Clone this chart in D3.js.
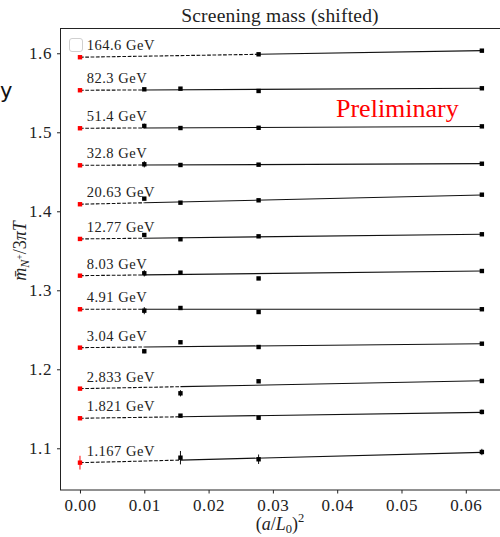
<!DOCTYPE html>
<html>
<head>
<meta charset="utf-8">
<script src="https://cdn.jsdelivr.net/npm/d3@7"></script>
<style>
  body { margin: 0; background: #fff; }
  svg { display: block; }
  text { font-family: "Liberation Serif", "DejaVu Serif", serif; fill: #222; }
</style>
</head>
<body>
<svg width="500" height="537"></svg>
<script>
var width = 500;
var height = 537;

// temperatures, one row per curve
var labels = ["164.6 GeV", "82.3 GeV", "51.4 GeV", "32.8 GeV", "20.63 GeV", "12.77 GeV",
              "8.03 GeV", "4.91 GeV", "3.04 GeV", "2.833 GeV", "1.821 GeV", "1.167 GeV"];

// lattice spacings (a/L0)^2
var xLattice = [0.01, 0.015625, 0.027778, 0.0625];

// lattice points per curve (null = not simulated)
var latticeValues = [
    [null,   null,   1.5987, 1.6033],
    [1.5544, 1.5552, 1.5523, 1.5557],
    [1.5080, 1.5054, 1.5057, 1.5075],
    [1.4595, 1.4586, 1.4590, 1.4602],
    [1.4160, 1.4109, 1.4139, 1.4210],
    [1.3700, 1.3646, 1.3683, 1.3709],
    [1.3215, 1.3223, 1.3150, 1.3244],
    [1.2742, 1.2776, 1.2725, 1.2760],
    [1.2228, 1.2342, 1.2282, 1.2324],
    [null,   1.1696, 1.1848, 1.1852],
    [null,   1.1413, 1.1387, 1.1460],
    [null,   1.0881, 1.0861, 1.0953]
];
var latticeErrors = [
    [0,      0,      0.0008, 0.0008],
    [0.0008, 0.0008, 0.0008, 0.0008],
    [0.0030, 0.0008, 0.0008, 0.0008],
    [0.0040, 0.0010, 0.0008, 0.0008],
    [0.0020, 0.0010, 0.0010, 0.0008],
    [0.0020, 0.0010, 0.0010, 0.0008],
    [0.0040, 0.0015, 0.0015, 0.0010],
    [0.0045, 0.0015, 0.0020, 0.0020],
    [0.0025, 0.0015, 0.0010, 0.0020],
    [0,      0.0040, 0.0020, 0.0010],
    [0,      0.0020, 0.0015, 0.0030],
    [0,      0.0085, 0.0060, 0.0040]
];

// continuum extrapolation (red) and fit value at the coarsest lattice
var continuumValues = [1.5950, 1.5532, 1.5051, 1.4582, 1.4089, 1.3650,
                       1.3185, 1.2760, 1.2274, 1.1755, 1.1380, 1.0818];
var continuumErrors = [0.0020, 0.0010, 0.0010, 0.0010, 0.0010, 0.0010,
                       0.0010, 0.0010, 0.0010, 0.0015, 0.0020, 0.0087];
var fitEndValues = [1.6033, 1.5557, 1.5073, 1.4603, 1.4206, 1.3709,
                    1.3244, 1.2760, 1.2324, 1.1855, 1.1455, 1.0948];

var xTicks = [0.00, 0.01, 0.02, 0.03, 0.04, 0.05, 0.06];
var yTicks = [1.1, 1.2, 1.3, 1.4, 1.5, 1.6];

var svg = d3.select('svg');

var xScale = d3.scaleLinear().domain([-0.00303, 0.06532]).range([60.5, 500]);
var yScale = d3.scaleLinear().domain([1.0472, 1.632]).range([490, 28]);

// stray text on the left edge
svg.append("text")
    .attr("x", 0)
    .attr("y", 98)
    .style("font-family", "DejaVu Sans, sans-serif")
    .style("fill", "#111")
    .attr("font-size", "21px")
    .text("y");

// title
svg.append("text")
    .attr("x", 280)
    .attr("y", 22)
    .attr("text-anchor", "middle")
    .attr("font-size", "19.5px")
    .attr("letter-spacing", "0.2px")
    .text("Screening mass (shifted)");

// axes
var xAxis = d3.axisBottom(xScale).tickValues(xTicks).tickFormat(d3.format(".2f")).tickSize(3.5).tickPadding(5);
var yAxis = d3.axisLeft(yScale).tickValues(yTicks).tickFormat(d3.format(".1f")).tickSize(3.5).tickPadding(5);

var gx = svg.append("g").attr("transform", "translate(0,490)").call(xAxis);
var gy = svg.append("g").attr("transform", "translate(60.5,0)").call(yAxis);
[gx, gy].forEach(function (g) {
    g.select(".domain").remove();
    g.selectAll(".tick line").attr("stroke", "#222");
    g.selectAll(".tick text")
        .style("font-family", "Liberation Serif, serif")
        .style("fill", "#222")
        .attr("letter-spacing", "0.6px")
        .attr("font-size", "17px");
});

// frame (right spine falls outside the picture)
svg.append("rect")
    .attr("x", 60.5)
    .attr("y", 28.5)
    .attr("width", 441)
    .attr("height", 461.5)
    .attr("fill", "none")
    .attr("stroke", "#222")
    .attr("stroke-width", 1);

// empty legend handle
svg.append("rect")
    .attr("x", 69.5)
    .attr("y", 38.5)
    .attr("width", 13)
    .attr("height", 13)
    .attr("rx", 2.5)
    .attr("fill", "none")
    .attr("stroke", "#d0d0d0")
    .attr("stroke-width", 1);

// axis labels
var xl = svg.append("text")
    .attr("x", 280)
    .attr("y", 530)
    .attr("text-anchor", "middle")
    .attr("font-size", "18px");
xl.append("tspan").text("(");
xl.append("tspan").attr("font-style", "italic").text("a");
xl.append("tspan").text("/");
xl.append("tspan").attr("font-style", "italic").text("L");
xl.append("tspan").attr("font-size", "12.5px").attr("dy", 3).text("0");
xl.append("tspan").attr("dy", -3).text(")");
xl.append("tspan").attr("font-size", "12.5px").attr("dy", -8).text("2");

var yl = svg.append("text")
    .attr("transform", "translate(26,251) rotate(-90)")
    .attr("text-anchor", "middle")
    .attr("font-size", "18px");
yl.append("tspan").attr("font-style", "italic").text("m\u0304");
yl.append("tspan").attr("font-size", "12px").attr("font-style", "italic").attr("dy", 3).text("N");
yl.append("tspan").attr("font-size", "9.5px").attr("dy", -6).text("+");
yl.append("tspan").attr("dy", 3).text("/3");
yl.append("tspan").attr("font-style", "italic").text("\u03C0T");

// preliminary stamp
svg.append("text")
    .attr("x", 336)
    .attr("y", 117)
    .attr("font-size", "26px")
    .style("fill", "red")
    .text("Preliminary");

// curves
var series = labels.map(function (lab, i) {
    var pts = [];
    xLattice.forEach(function (x, j) {
        if (latticeValues[i][j] !== null) {
            pts.push({ x: x, y: latticeValues[i][j], e: latticeErrors[i][j] });
        }
    });
    return { label: lab, pts: pts, c0: continuumValues[i], ce: continuumErrors[i], cEnd: fitEndValues[i] };
});

var groups = svg.selectAll(".curve")
    .data(series)
    .enter()
    .append("g")
    .classed("curve", true);

groups.each(function (d) {
    var g = d3.select(this);
    var xmin = d.pts[0].x;
    var xmax = xLattice[xLattice.length - 1];
    var fit = d3.scaleLinear().domain([0, xmax]).range([d.c0, d.cEnd]);

    // dashed extrapolation to the continuum
    g.append("line")
        .attr("x1", xScale(0)).attr("y1", yScale(fit(0)))
        .attr("x2", xScale(xmin)).attr("y2", yScale(fit(xmin)))
        .attr("stroke", "#111")
        .attr("stroke-width", 1.1)
        .attr("stroke-dasharray", "3.7,1.6");

    // solid fit over the data range
    g.append("line")
        .attr("x1", xScale(xmin)).attr("y1", yScale(fit(xmin)))
        .attr("x2", xScale(xmax)).attr("y2", yScale(fit(xmax)))
        .attr("stroke", "#111")
        .attr("stroke-width", 1.1);

    // lattice points
    g.selectAll(".err")
        .data(d.pts)
        .enter()
        .append("line")
        .attr("x1", function (p) { return xScale(p.x); })
        .attr("x2", function (p) { return xScale(p.x); })
        .attr("y1", function (p) { return yScale(p.y - p.e); })
        .attr("y2", function (p) { return yScale(p.y + p.e); })
        .attr("stroke", "#111")
        .attr("stroke-width", 1);
    g.selectAll(".pt")
        .data(d.pts)
        .enter()
        .append("rect")
        .attr("x", function (p) { return xScale(p.x) - 2.2; })
        .attr("y", function (p) { return yScale(p.y) - 2.2; })
        .attr("width", 4.4)
        .attr("height", 4.4)
        .attr("fill", "#000");

    // continuum point
    g.append("line")
        .attr("x1", xScale(0)).attr("x2", xScale(0))
        .attr("y1", yScale(d.c0 - d.ce)).attr("y2", yScale(d.c0 + d.ce))
        .attr("stroke", "red")
        .attr("stroke-width", 1);
    g.append("rect")
        .attr("x", xScale(0) - 2.2)
        .attr("y", yScale(d.c0) - 2.2)
        .attr("width", 4.4)
        .attr("height", 4.4)
        .attr("fill", "red");

    // temperature label
    g.append("text")
        .attr("x", xScale(0.00105))
        .attr("y", yScale(d.c0 + 0.0089))
        .attr("font-size", "14.5px")
        .attr("letter-spacing", "0.5px")
        .text(d.label);
});
</script>
</body>
</html>
